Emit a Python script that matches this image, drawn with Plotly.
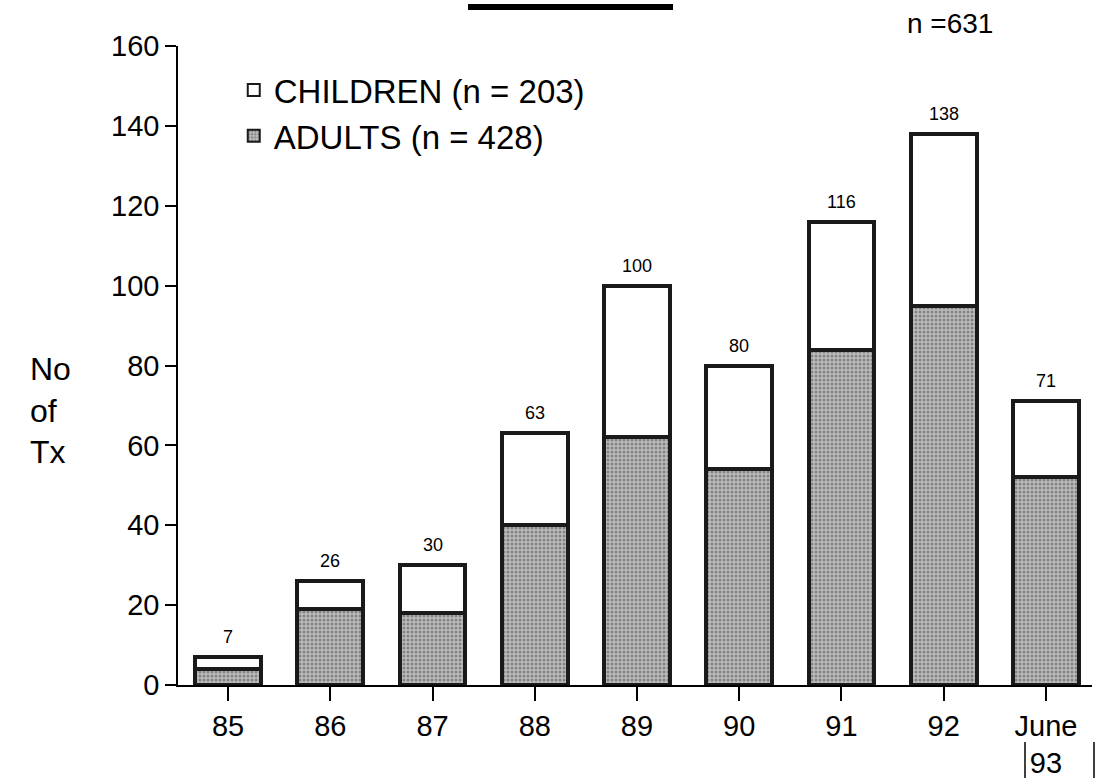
import plotly.graph_objects as go

years = ["85", "86", "87", "88", "89", "90", "91", "92", "June<br>93"]
adults = [4, 19, 18, 40, 62, 54, 84, 95, 52]
children = [3, 7, 12, 23, 38, 26, 32, 43, 19]
totals = [a + c for a, c in zip(adults, children)]
y_ticks = [0, 20, 40, 60, 80, 100, 120, 140, 160]

FONT = "Liberation Sans, Arial, sans-serif"
EDGE = "#1a1a1a"

fig = go.Figure()
fig.add_trace(go.Bar(
    x=years, y=adults, name="ADULTS (n = 428)",
    marker=dict(color="#a9a9a9", line=dict(color=EDGE, width=4),
                pattern=dict(shape=".", fgcolor="#4a4a4a", bgcolor="#bdbdbd",
                             size=4, solidity=0.45)),
    width=0.645,
))
fig.add_trace(go.Bar(
    x=years, y=children, name="CHILDREN (n = 203)",
    marker=dict(color="white", line=dict(color=EDGE, width=4)),
    width=0.645,
))

for i, tv in enumerate(totals):
    fig.add_annotation(x=i, y=tv, text=str(tv), showarrow=False,
                       yanchor="bottom", yshift=8,
                       font=dict(family=FONT, size=18, color="black"))

fig.update_layout(
    width=1097, height=778,
    barmode="stack",
    plot_bgcolor="white", paper_bgcolor="white",
    margin=dict(l=178, r=5, t=46, b=93, autoexpand=False),
    font=dict(family=FONT, color="black"),
    showlegend=True,
    legend=dict(x=0.061, y=0.975, xanchor="left", yanchor="top",
                traceorder="reversed", bgcolor="rgba(0,0,0,0)",
                font=dict(family=FONT, size=33, color="black"),
                itemsizing="constant", tracegroupgap=0),
    xaxis=dict(type="category", range=[-0.489, 8.45], automargin=False,
               showline=True, linecolor="black", linewidth=1.5,
               ticks="outside", ticklen=14, tickwidth=1.5, tickcolor="black",
               tickfont=dict(family=FONT, size=29, color="black"),
               showgrid=False, zeroline=False, fixedrange=True),
    yaxis=dict(range=[0, 160], tickvals=y_ticks, automargin=False,
               showline=True, linecolor="black", linewidth=1.5,
               ticks="outside", ticklen=11, tickwidth=1.5, tickcolor="black",
               tickfont=dict(family=FONT, size=29, color="black"),
               showgrid=False, zeroline=False),
)

# Y title: stacked words at far left
fig.add_annotation(xref="paper", yref="paper", x=-0.164, y=0.43,
                   xanchor="left", yanchor="middle", align="left",
                   text="No<br>of<br>Tx", showarrow=False,
                   font=dict(family=FONT, size=32, color="black"))
# n = 631 note
fig.add_annotation(xref="paper", yref="paper", x=0.795, y=1.035,
                   xanchor="left", yanchor="middle",
                   text="n =631", showarrow=False,
                   font=dict(family=FONT, size=28, color="black"))
# Cut-off title rule at top
fig.add_shape(type="line", xref="paper", yref="paper",
              x0=(468 - 178) / 914, x1=(673 - 178) / 914,
              y0=(685 - 7) / 639, y1=(685 - 7) / 639,
              line=dict(color="black", width=6))
# Vertical rules around "93"
for px in (1025, 1094):
    fig.add_shape(type="line", xref="paper", yref="paper",
                  x0=(px - 178) / 914, x1=(px - 178) / 914,
                  y0=(685 - 742) / 639, y1=(685 - 778) / 639,
                  line=dict(color="black", width=1.5))

fig.write_html("out.html")
